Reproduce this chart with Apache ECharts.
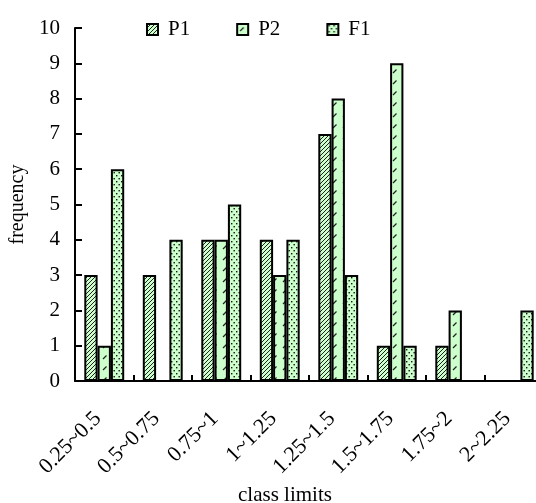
<!DOCTYPE html>
<html>
<head>
<meta charset="utf-8">
<script src="https://cdn.jsdelivr.net/npm/echarts@6/dist/echarts.min.js"></script>
<style>
html,body{margin:0;padding:0;background:#fff;}
#chart{width:536px;height:503px;}
</style>
</head>
<body>
<div id="chart"></div>
<script>
const categories = ['0.25~0.5','0.5~0.75','0.75~1','1~1.25','1.25~1.5','1.5~1.75','1.75~2','2~2.25'];
const p1 = [3, 3, 4, 4, 7, 1, 1, 0];
const p2 = [1, 0, 4, 3, 8, 9, 2, 0];
const f1 = [6, 4, 5, 4, 3, 1, 0, 2];
const seriesNames = ['P1', 'P2', 'F1'];
const yTicks = [0, 10, 1];

const FILL = '#ccffcc';
function makePattern(type) {
  const c = document.createElement('canvas');
  let w, h;
  if (type === 'hatch') { w = 4; h = 4; }
  else if (type === 'slash') { w = 10; h = 11; }
  else { w = 5; h = 6; }
  c.width = w; c.height = h;
  const ctx = c.getContext('2d');
  ctx.fillStyle = FILL;
  ctx.fillRect(0, 0, w, h);
  ctx.strokeStyle = '#222';
  ctx.fillStyle = '#111';
  if (type === 'hatch') {
    ctx.lineWidth = 1;
    ctx.beginPath();
    ctx.moveTo(-1, 5); ctx.lineTo(5, -1);
    ctx.moveTo(-1, 1); ctx.lineTo(1, -1);
    ctx.moveTo(3, 5); ctx.lineTo(5, 3);
    ctx.stroke();
  } else if (type === 'slash') {
    ctx.lineWidth = 1.2;
    ctx.beginPath();
    ctx.moveTo(3, 7); ctx.lineTo(6.5, 3.5);
    ctx.stroke();
  } else {
    ctx.fillRect(1, 1, 1.4, 1.4);
    ctx.fillRect(3.5, 4, 1.4, 1.4);
  }
  return { image: c, repeat: 'repeat' };
}
const patterns = [makePattern('hatch'), makePattern('slash'), makePattern('dots')];
const values = [p1, p2, f1];
const FONT = 'Liberation Serif';

const chart = echarts.init(document.getElementById('chart'));
chart.setOption({
  animation: false,
  backgroundColor: '#fff',
  legend: {
    top: 14, left: 141,
    icon: 'rect', itemWidth: 11, itemHeight: 11, itemGap: 46,
    textStyle: { fontFamily: FONT, fontSize: 21, color: '#000', padding: [0, 0, 0, 5] },
    data: seriesNames
  },
  grid: { left: 75, top: 28, width: 468, height: 353, containLabel: false, outerBoundsMode: 'none' },
  xAxis: {
    type: 'category',
    data: categories,
    name: 'class limits',
    nameLocation: 'middle',
    nameGap: 104,
    nameTextStyle: { fontFamily: FONT, fontSize: 21, color: '#000', padding: [0, 48, 0, 0] },
    axisLine: { lineStyle: { color: '#000', width: 2 } },
    axisTick: { show: true, inside: true, length: 6, lineStyle: { color: '#000', width: 2 } },
    axisLabel: { rotate: 45, margin: 28, padding: [0, 9, 0, 0], fontFamily: FONT, fontSize: 22, color: '#000', interval: 0 },
    splitLine: { show: false }
  },
  yAxis: {
    type: 'value',
    min: yTicks[0], max: yTicks[1], interval: yTicks[2],
    name: 'frequency',
    nameLocation: 'middle',
    nameRotate: 90,
    nameGap: 46,
    nameTextStyle: { fontFamily: FONT, fontSize: 20, color: '#000' },
    axisLine: { show: true, lineStyle: { color: '#000', width: 2 } },
    axisTick: { show: true, inside: true, length: 7, lineStyle: { color: '#000', width: 2 } },
    axisLabel: { margin: 15, fontFamily: FONT, fontSize: 21, color: '#000' },
    splitLine: { show: false }
  },
  series: seriesNames.map((n, i) => ({
    name: n,
    type: 'bar',
    data: values[i],
    barWidth: 13.3,
    barGap: '0%',
    itemStyle: { color: patterns[i], borderColor: '#000', borderWidth: 2 }
  }))
});
</script>
</body>
</html>
